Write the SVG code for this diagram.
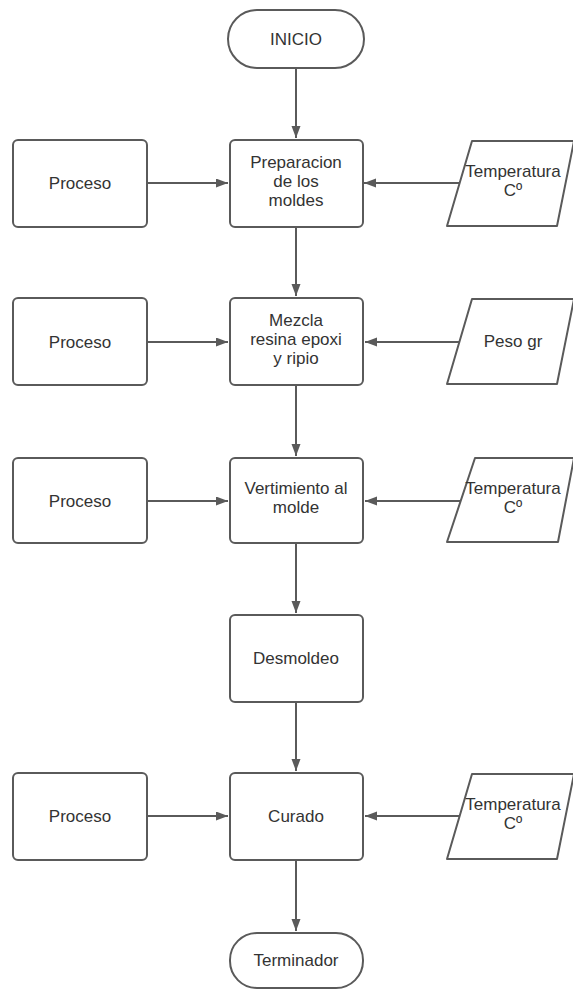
<svg xmlns="http://www.w3.org/2000/svg" width="573" height="990" viewBox="0 0 573 990">
<style>
.shape{fill:#fff;stroke:#5a5a5a;stroke-width:2;stroke-linejoin:round}
.conn{fill:none;stroke:#5a5a5a;stroke-width:2}
text{font-family:"Liberation Sans",Arial,sans-serif;font-size:17px;fill:#333;text-anchor:middle}
</style>
<defs>
<marker id="ah" markerUnits="userSpaceOnUse" markerWidth="13" markerHeight="10" refX="12" refY="4.5" orient="auto">
<path d="M0,0 L12,4.5 L0,9 z" fill="#5a5a5a"/>
</marker>
</defs>
<rect width="573" height="990" fill="#fff"/>
<g id="connectors">
<line class="conn" x1="296" y1="68" x2="296" y2="138" marker-end="url(#ah)"/>
<line class="conn" x1="296" y1="227" x2="296" y2="296" marker-end="url(#ah)"/>
<line class="conn" x1="296" y1="385" x2="296" y2="456" marker-end="url(#ah)"/>
<line class="conn" x1="296" y1="543" x2="296" y2="613" marker-end="url(#ah)"/>
<line class="conn" x1="296" y1="702" x2="296" y2="771" marker-end="url(#ah)"/>
<line class="conn" x1="296" y1="860" x2="296" y2="931" marker-end="url(#ah)"/>
<line class="conn" x1="147" y1="183" x2="228" y2="183" marker-end="url(#ah)"/>
<line class="conn" x1="460" y1="183" x2="364" y2="183" marker-end="url(#ah)"/>
<line class="conn" x1="147" y1="342" x2="228" y2="342" marker-end="url(#ah)"/>
<line class="conn" x1="460" y1="342" x2="365" y2="342" marker-end="url(#ah)"/>
<line class="conn" x1="147" y1="501" x2="228" y2="501" marker-end="url(#ah)"/>
<line class="conn" x1="461" y1="501" x2="365" y2="501" marker-end="url(#ah)"/>
<line class="conn" x1="147" y1="816" x2="228" y2="816" marker-end="url(#ah)"/>
<line class="conn" x1="460" y1="816" x2="365" y2="816" marker-end="url(#ah)"/>
</g>
<g id="inicio">
<rect class="shape" x="228" y="10" width="136" height="58" rx="29"/>
<text x="296" y="45">INICIO</text>
</g>
<g id="proceso1">
<rect class="shape" x="13" y="140" width="134" height="87" rx="5"/>
<text x="80" y="189">Proceso</text>
</g>
<g id="preparacion">
<rect class="shape" x="230" y="140" width="133" height="87" rx="5"/>
<text x="296" y="168">Preparacion</text>
<text x="296" y="187">de los</text>
<text x="296" y="206">moldes</text>
</g>
<g id="temp1">
<polygon class="shape" points="472,141 574,141 557,226 447,226"/>
<text x="513" y="177">Temperatura</text>
<text x="513" y="196">Cº</text>
</g>
<g id="proceso2">
<rect class="shape" x="13" y="298" width="134" height="87" rx="5"/>
<text x="80" y="348">Proceso</text>
</g>
<g id="mezcla">
<rect class="shape" x="230" y="298" width="133" height="87" rx="5"/>
<text x="296" y="326">Mezcla</text>
<text x="296" y="345">resina epoxi</text>
<text x="296" y="364">y ripio</text>
</g>
<g id="peso">
<polygon class="shape" points="472,299 574,299 557,384 447,384"/>
<text x="513" y="347">Peso gr</text>
</g>
<g id="proceso3">
<rect class="shape" x="13" y="458" width="134" height="85" rx="5"/>
<text x="80" y="507">Proceso</text>
</g>
<g id="vertimiento">
<rect class="shape" x="230" y="458" width="133" height="85" rx="5"/>
<text x="296" y="494">Vertimiento al</text>
<text x="296" y="513">molde</text>
</g>
<g id="temp2">
<polygon class="shape" points="475,458 574,458 558,542 447,542"/>
<text x="513" y="494">Temperatura</text>
<text x="513" y="513">Cº</text>
</g>
<g id="desmoldeo">
<rect class="shape" x="230" y="615" width="133" height="87" rx="5"/>
<text x="296" y="664">Desmoldeo</text>
</g>
<g id="proceso4">
<rect class="shape" x="13" y="773" width="134" height="87" rx="5"/>
<text x="80" y="822">Proceso</text>
</g>
<g id="curado">
<rect class="shape" x="230" y="773" width="133" height="87" rx="5"/>
<text x="296" y="822">Curado</text>
</g>
<g id="temp3">
<polygon class="shape" points="472,774 574,774 557,859 447,859"/>
<text x="513" y="810">Temperatura</text>
<text x="513" y="829">Cº</text>
</g>
<g id="terminador">
<rect class="shape" x="230" y="933" width="133" height="55" rx="27"/>
<text x="296" y="966">Terminador</text>
</g>
</svg>
